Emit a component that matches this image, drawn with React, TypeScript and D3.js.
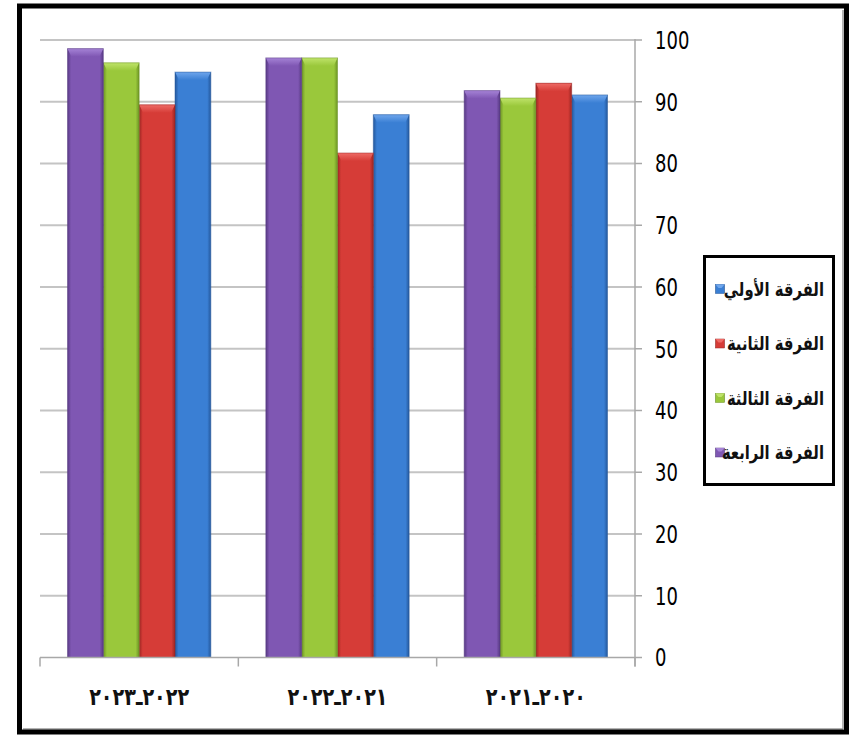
import React from "react";
import * as d3 from "d3";

const categories = ["٢٠٢١ـ٢٠٢٠", "٢٠٢٢ـ٢٠٢١", "٢٠٢٣ـ٢٠٢٢"];
const seriesNames = ["الفرقة الأولي", "الفرقة الثانية", "الفرقة الثالثة", "الفرقة الرابعة"];
const firstYear = [91.1, 87.9, 94.8];
const secondYear = [93.0, 81.7, 89.5];
const thirdYear = [90.6, 97.1, 96.3];
const fourthYear = [91.8, 97.1, 98.6];
const yTicks = [0, 10, 20, 30, 40, 50, 60, 70, 80, 90, 100];

const seriesValues = [firstYear, secondYear, thirdYear, fourthYear];
const colors = ["#3a7fd4", "#d63c37", "#9ac83b", "#7f57b3"];
const darkColors = ["#24589c", "#9c2623", "#6c9424", "#583a84"];
const lightColors = ["#6fa6ec", "#ee6b66", "#bfe36a", "#a583d6"];

const W = 854;
const H = 736;
const plotLeft = 40;
const plotRight = 635;
const plotTop = 40;
const plotBottom = 657.5;

export default function App() {
  // categories drawn right-to-left
  const x = d3.scaleBand<string>().domain([...categories].reverse()).range([plotLeft, plotRight]).padding(0);
  const bw = x.bandwidth();
  // within group, order from left: fourth, third, second, first
  const inner = d3
    .scaleBand<number>()
    .domain([3, 2, 1, 0])
    .range([27.5, bw - 27.5])
    .padding(0);
  const y = d3.scaleLinear().domain([0, 100]).range([plotBottom, plotTop]);
  const w = inner.bandwidth();

  return (
    <svg width={W} height={H} style={{ position: "absolute", left: 0, top: 0, background: "#fff" }}>
      <defs>
        {colors.map((c, i) => (
          <linearGradient key={"g" + i} id={"bar" + i} x1="0" x2="1" y1="0" y2="0">
            <stop offset="0" stopColor={darkColors[i]} />
            <stop offset="0.1" stopColor={c} />
            <stop offset="0.9" stopColor={c} />
            <stop offset="1" stopColor={darkColors[i]} />
          </linearGradient>
        ))}
        {colors.map((c, i) => (
          <linearGradient key={"t" + i} id={"top" + i} x1="0" x2="0" y1="0" y2="1">
            <stop offset="0" stopColor={lightColors[i]} />
            <stop offset="1" stopColor={c} />
          </linearGradient>
        ))}
      </defs>
      <rect x={0} y={0} width={W} height={H} fill="#fff" />
      {/* gridlines */}
      {yTicks.slice(1).map((t) => (
        <line key={"gl" + t} x1={plotLeft} x2={plotRight} y1={y(t)} y2={y(t)} stroke="#c4c4c4" strokeWidth={2} />
      ))}
      {/* bars */}
      {categories.map((cat, ci) =>
        seriesValues.map((vals, si) => {
          const bx = (x(cat) as number) + (inner(si) as number);
          const by = y(vals[ci]);
          const bh = plotBottom - by;
          const cap = 8;
          return (
            <g key={cat + si}>
              <rect x={bx} y={by} width={w} height={bh} fill={`url(#bar${si})`} />
              <polygon
                points={`${bx},${by} ${bx + w},${by} ${bx + w - 4},${by + cap} ${bx + 4},${by + cap}`}
                fill={`url(#top${si})`}
              />
              <rect x={bx} y={by} width={w} height={bh} fill="none" stroke={darkColors[si]} strokeOpacity={0.5} strokeWidth={1} />
            </g>
          );
        })
      )}
      {/* x axis */}
      <line x1={plotLeft} x2={plotRight} y1={plotBottom} y2={plotBottom} stroke="#a8a8a8" strokeWidth={1.5} />
      {[...x.domain(), "end"].map((d, i) => {
        const xx = plotLeft + i * bw;
        return <line key={"xt" + i} x1={xx} x2={xx} y1={plotBottom} y2={plotBottom + 9} stroke="#a8a8a8" strokeWidth={1.5} />;
      })}
      {categories.map((cat) => (
        <text
          key={"xl" + cat}
          x={(x(cat) as number) + bw / 2}
          y={697}
          textAnchor="middle"
          dominantBaseline="central"
          fontFamily="DejaVu Sans"
          fontWeight="bold"
          fontSize={24}
          fill="#111"
          direction="ltr"
          style={{ unicodeBidi: "bidi-override", direction: "ltr" }}
          textLength={100}
          lengthAdjust="spacingAndGlyphs"
        >
          {cat}
        </text>
      ))}
      {/* y axis */}
      <line x1={plotRight} x2={plotRight} y1={plotTop - 1} y2={plotBottom + 9} stroke="#a8a8a8" strokeWidth={1.5} />
      {yTicks.map((t) => (
        <g key={"yt" + t}>
          <line x1={plotRight} x2={plotRight + 7} y1={y(t)} y2={y(t)} stroke="#a8a8a8" strokeWidth={1.5} />
          <g transform={`translate(655,${y(t)}) scale(0.8,1)`}>
            <text
              x={0}
              y={0}
              dominantBaseline="central"
              fontFamily="'DejaVu Sans Condensed', 'DejaVu Sans', sans-serif"
              fontSize={25}
              fill="#000"
            >
              {t}
            </text>
          </g>
        </g>
      ))}
      {/* legend */}
      <rect x={704.5} y={256.5} width={129} height={228} fill="#fff" stroke="#000" strokeWidth={3} />
      {seriesNames.map((name, i) => {
        const cy = 289 + i * 54.5;
        return (
          <g key={"lg" + i}>
            <rect x={715.5} y={cy - 4.5} width={9} height={9} fill={`url(#bar${i})`} stroke={darkColors[i]} strokeWidth={0.5} />
            <polygon points={`${715.5},${cy - 4.5} ${724.5},${cy - 4.5} ${721.5},${cy - 1} ${718.5},${cy - 1}`} fill={lightColors[i]} />
            <g transform={`translate(824,${cy}) scale(0.78,1)`}>
              <text
                x={0}
                y={0}
                textAnchor="end"
                dominantBaseline="central"
                fontFamily="DejaVu Sans"
                fontWeight="bold"
                fontSize={19}
                fill="#111"
              >
                {name}
              </text>
            </g>
          </g>
        );
      })}
      {/* outer frame */}
      <line x1={843} x2={843} y1={10} y2={729} stroke="#9a9a9a" strokeWidth={1.5} />
      <line x1={23} x2={843} y1={729} y2={729} stroke="#9a9a9a" strokeWidth={1.5} />
      <rect x={19.5} y={6} width={827} height={726} fill="none" stroke="#000" strokeWidth={5} />
    </svg>
  );
}
